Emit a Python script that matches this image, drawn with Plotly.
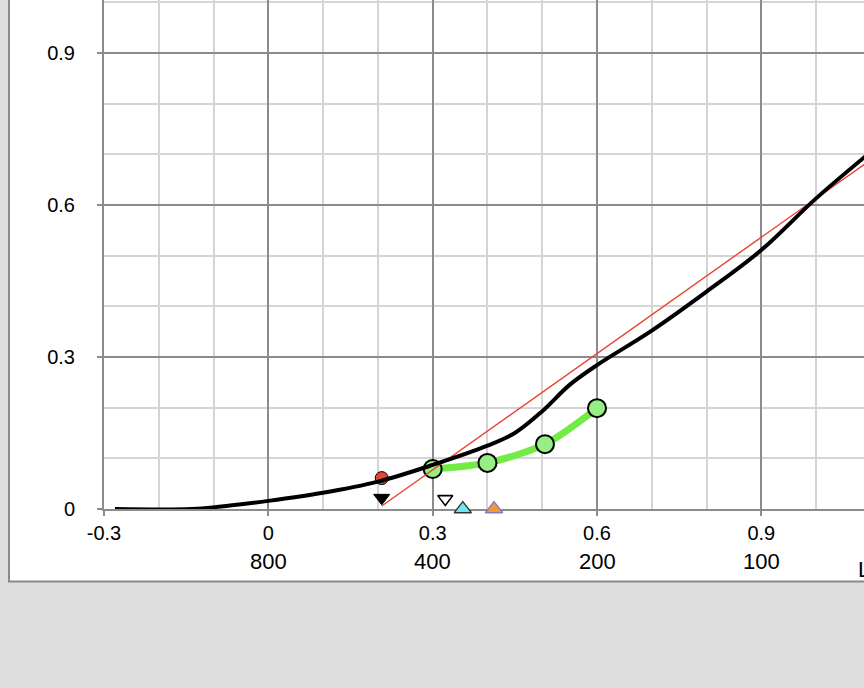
import plotly.graph_objects as go

# ---- data ----
curve_x = [-0.28, -0.14, -0.07, 0.0, 0.1, 0.2, 0.3, 0.4, 0.45, 0.5, 0.55, 0.6, 0.7, 0.8, 0.9, 1.0, 1.1]
curve_y = [0.0, 0.0, 0.007, 0.016, 0.032, 0.054, 0.087, 0.125, 0.150, 0.193, 0.245, 0.284, 0.352, 0.429, 0.511, 0.613, 0.705]

green_x = [0.3, 0.4, 0.505, 0.6]
green_y = [0.079, 0.091, 0.128, 0.199]

ref_x = [0.207, 1.2]
ref_y = [0.006, 0.766]

red_dot_x = [0.207]
red_dot_y = [0.061]
filled_tri_x = [0.207]
filled_tri_y = [0.022]
open_tri_x = [0.323]
open_tri_y = [0.020]
cyan_tri_x = [0.355]
cyan_tri_y = [0.0]
orange_tri_x = [0.412]
orange_tri_y = [0.0]

x_tickvals = [-0.3, 0.0, 0.3, 0.6, 0.9]
x_ticktext = ["-0.3", "0", "0.3", "0.6", "0.9"]
y_tickvals = [0.0, 0.3, 0.6, 0.9]
y_ticktext = ["0", "0.3", "0.6", "0.9"]
second_row_x = [0.0, 0.3, 0.6, 0.9]
second_row_text = ["800", "400", "200", "100"]
axis_title_fragment = "L"

FONT = "Liberation Sans, Arial, Helvetica, sans-serif"
MAJOR = "#8c8c8c"
MINOR = "#d4d4d4"

fig = go.Figure()

# green series
fig.add_trace(go.Scatter(
    x=green_x, y=green_y, mode="lines+markers",
    line=dict(color="#72ec45", width=7, shape="spline", smoothing=0.8),
    marker=dict(size=18, color="#97ee85", line=dict(color="black", width=2)),
    cliponaxis=False, showlegend=False, hoverinfo="skip"))

# point markers
fig.add_trace(go.Scatter(
    x=red_dot_x, y=red_dot_y, mode="markers",
    marker=dict(symbol="circle", size=13, color="#e5472b", line=dict(color="black", width=1)),
    cliponaxis=False, showlegend=False))
fig.add_trace(go.Scatter(
    x=filled_tri_x, y=filled_tri_y, mode="markers",
    marker=dict(symbol="triangle-down", size=14, color="black", line=dict(color="black", width=1)),
    cliponaxis=False, showlegend=False))
fig.add_trace(go.Scatter(
    x=open_tri_x, y=open_tri_y, mode="markers",
    marker=dict(symbol="triangle-down", size=13, color="white", line=dict(color="black", width=1.6)),
    cliponaxis=False, showlegend=False))
fig.add_trace(go.Scatter(
    x=cyan_tri_x, y=cyan_tri_y, mode="markers",
    marker=dict(symbol="triangle-up", size=15, color="#72e6f0", line=dict(color="#333333", width=1.3)),
    cliponaxis=False, showlegend=False))
fig.add_trace(go.Scatter(
    x=orange_tri_x, y=orange_tri_y, mode="markers",
    marker=dict(symbol="triangle-up", size=15, color="#ee9a3c", line=dict(color="#8877bb", width=1.3)),
    cliponaxis=False, showlegend=False))

# red reference line
fig.add_trace(go.Scatter(
    x=ref_x, y=ref_y, mode="lines",
    line=dict(color="#e8452c", width=1.4),
    showlegend=False, hoverinfo="skip"))

# black curve
fig.add_trace(go.Scatter(
    x=curve_x, y=curve_y, mode="lines",
    line=dict(color="black", width=4, shape="spline", smoothing=1.0),
    cliponaxis=False, showlegend=False, hoverinfo="skip"))

# second row of x labels
for xv, tx in zip(second_row_x, second_row_text):
    fig.add_annotation(x=xv, xref="x", y=-0.103, yref="paper", text=tx,
                       showarrow=False, xanchor="center", yanchor="middle",
                       font=dict(family=FONT, size=22, color="black"))

fig.add_annotation(x=0.9895, xref="paper", y=-0.119, yref="paper", text=axis_title_fragment,
                   showarrow=False, xanchor="left", yanchor="middle",
                   font=dict(family=FONT, size=22, color="black"))

# white frame
fig.add_shape(type="rect", xref="paper", yref="paper",
              x0=-0.125, x1=1.2, y0=-0.1425, y1=1.2,
              fillcolor="white", line=dict(color="#8a8a8a", width=2), layer="below")

axis_common = dict(
    showgrid=True, gridcolor=MAJOR, gridwidth=2,
    showline=True, linecolor=MAJOR, linewidth=2,
    ticks="outside", ticklen=5, tickwidth=2, tickcolor=MAJOR,
    zeroline=False, tickfont=dict(family=FONT, size=20, color="black"),
    layer="below traces",
)

fig.update_xaxes(range=[-0.3, 1.0874], tickmode="array", tickvals=x_tickvals, ticktext=x_ticktext,
                 minor=dict(dtick=0.1, tick0=0, showgrid=True, gridcolor=MINOR, gridwidth=1.5, ticks=""),
                 **axis_common)
fig.update_yaxes(range=[0, 1.0045], tickmode="array", tickvals=y_tickvals, ticktext=y_ticktext,
                 minor=dict(dtick=0.1, tick0=0, showgrid=True, gridcolor=MINOR, gridwidth=1.5, ticks=""),
                 ticklabelstandoff=18, **axis_common)

fig.update_layout(
    width=864, height=688,
    margin=dict(l=104, r=0, t=0, b=179, pad=0),
    paper_bgcolor="#dedede", plot_bgcolor="white",
    font=dict(family=FONT, size=20, color="black"),
    showlegend=False,
)

fig.write_html("out.html", config={"displayModeBar": False},
               post_script="document.body.style.margin='0px';document.body.style.overflow='hidden';")
